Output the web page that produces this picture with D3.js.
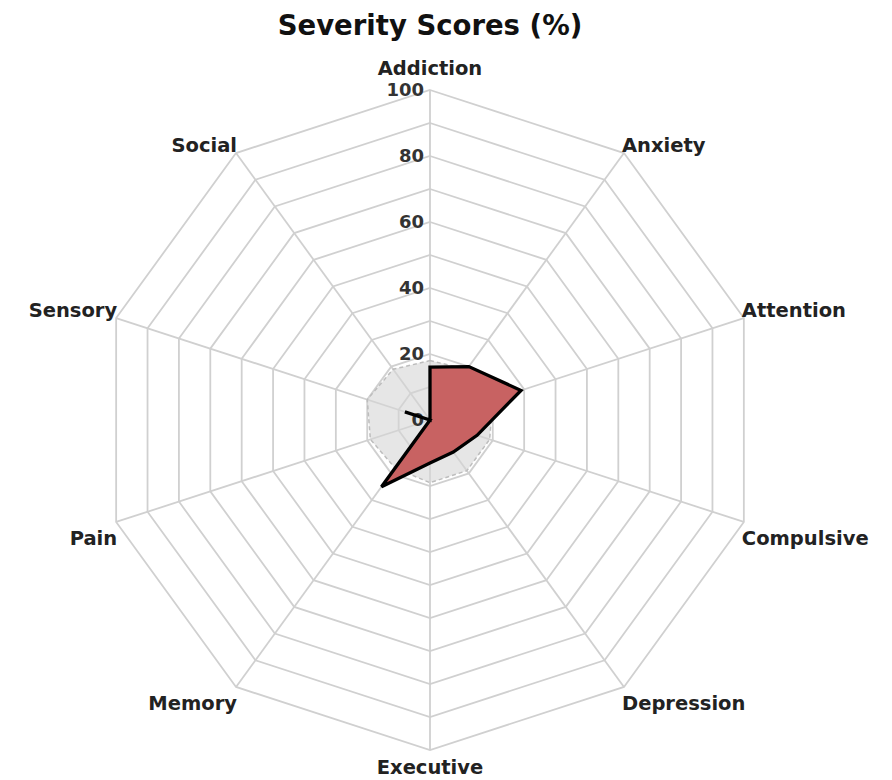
<!DOCTYPE html>
<html>
<head>
<meta charset="utf-8">
<script src="https://cdn.jsdelivr.net/npm/d3@7/dist/d3.min.js"></script>
<style>
  html, body { margin: 0; padding: 0; background: #ffffff; }
  svg { display: block; }
</style>
</head>
<body>
<svg id="chart" width="892" height="780"></svg>
<script>
// ---- data ----
const categories = ["Addiction","Anxiety","Attention","Compulsive","Depression","Executive","Memory","Pain","Sensory","Social"];
const severityScores = [16, 20, 29, 15, 12, 13, 25, 0, 8, 0];
const referenceScores = [18, 19, 20, 19, 19, 19, 18, 19, 20, 19];
const tickLabels = [0, 20, 40, 60, 80, 100];
const gridLevels = [10, 20, 30, 40, 50, 60, 70, 80, 90, 100];
const titleText = "Severity Scores (%)";

// ---- layout ----
const W = 892, H = 780;
const cx = 430, cy = 420, R = 330;
const FONT = "'DejaVu Sans', sans-serif";

const svg = d3.select("#chart");
const r = d3.scaleLinear().domain([0, 100]).range([0, R]);
const angle = d3.scaleLinear().domain([0, categories.length]).range([0, 2 * Math.PI]);

const pt = (i, v) => {
  const a = angle(i);
  return [cx + r(v) * Math.sin(a), cy - r(v) * Math.cos(a)];
};

const g = svg.append("g");

// grid rings
const ringLine = d3.line().curve(d3.curveLinearClosed);
g.selectAll("path.ring").data(gridLevels).join("path")
  .attr("class", "ring")
  .attr("d", lv => ringLine(categories.map((c, i) => pt(i, lv))))
  .attr("fill", "none")
  .attr("stroke", "#d0d0d0")
  .attr("stroke-width", 1.8);

// spokes
g.selectAll("line.spoke").data(categories).join("line")
  .attr("class", "spoke")
  .attr("x1", cx).attr("y1", cy)
  .attr("x2", (d, i) => pt(i, 100)[0])
  .attr("y2", (d, i) => pt(i, 100)[1])
  .attr("stroke", "#d0d0d0")
  .attr("stroke-width", 1.8);

// reference (grey) area
g.append("path")
  .attr("d", ringLine(referenceScores.map((v, i) => pt(i, v))))
  .attr("fill", "#d6d6d6")
  .attr("fill-opacity", 0.6)
  .attr("stroke", "#bdbdbd")
  .attr("stroke-width", 1.5)
  .attr("stroke-dasharray", "4,3");

// tick labels
g.selectAll("text.tick").data(tickLabels).join("text")
  .attr("class", "tick")
  .attr("x", cx - 6)
  .attr("y", d => cy - r(d))
  .attr("dy", "0.36em")
  .attr("text-anchor", "end")
  .attr("font-family", FONT)
  .attr("font-weight", "bold")
  .attr("font-size", 18)
  .attr("fill", "#333")
  .text(d => d);

// severity series
g.append("path")
  .attr("d", ringLine(severityScores.map((v, i) => pt(i, v))))
  .attr("fill", "#c86262")
  .attr("stroke", "#000")
  .attr("stroke-width", 3.3)
  .attr("stroke-linejoin", "miter");

// category labels
g.selectAll("text.cat").data(categories).join("text")
  .attr("class", "cat")
  .each(function (d, i) {
    const [x, y] = pt(i, 100);
    const a = angle(i);
    const s = Math.sin(a), c = Math.cos(a);
    let anchor = "middle", tx = x, ty = y;
    if (Math.abs(s) < 0.01) {
      anchor = "middle";
      ty = c > 0 ? y - 15 : y + 24;
    } else {
      anchor = s > 0 ? "start" : "end";
      tx = s > 0 ? x - 2 : x + 1;
      ty = c > 0 ? y - 1 : y + 23;
    }
    d3.select(this)
      .attr("x", tx).attr("y", ty)
      .attr("text-anchor", anchor);
  })
  .attr("font-family", FONT)
  .attr("font-weight", "bold")
  .attr("font-size", 19.5)
  .attr("fill", "#222")
  .text(d => d);

// title
svg.append("text")
  .attr("x", cx)
  .attr("y", 35)
  .attr("text-anchor", "middle")
  .attr("font-family", FONT)
  .attr("font-weight", "bold")
  .attr("font-size", 27.5)
  .attr("fill", "#111")
  .text(titleText);
</script>
</body>
</html>
